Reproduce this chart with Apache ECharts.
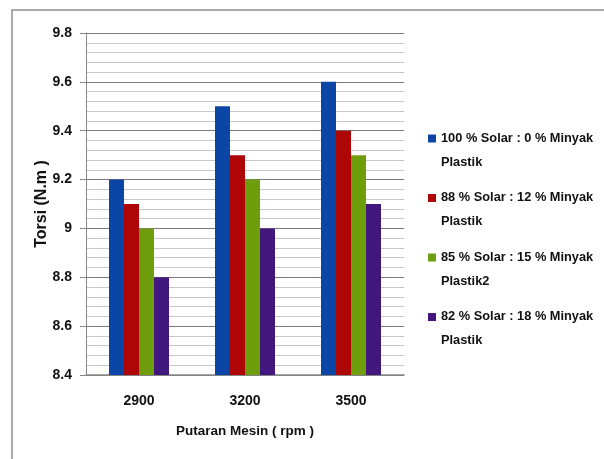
<!DOCTYPE html>
<html>
<head>
<meta charset="utf-8">
<script src="https://cdn.jsdelivr.net/npm/echarts@6/dist/echarts.min.js"></script>
<style>
html,body{margin:0;padding:0;background:#fff;}
#chart{width:604px;height:459px;}
</style>
</head>
<body>
<div id="chart"></div>
<script>
var categories = ['2900', '3200', '3500'];
var seriesNames = [
  '100 % Solar : 0 % Minyak\nPlastik',
  '88 % Solar : 12 % Minyak\nPlastik',
  '85 % Solar : 15 % Minyak\nPlastik2',
  '82 % Solar : 18 % Minyak\nPlastik'
];
var solar100 = [9.2, 9.5, 9.6];
var solar88 = [9.1, 9.3, 9.4];
var solar85 = [9.0, 9.2, 9.3];
var solar82 = [8.8, 9.0, 9.1];
var colors = ['#0B46A6', '#AE0606', '#6E9E0C', '#42187E'];

var FONT = '"Liberation Sans", Arial, sans-serif';
var chart = echarts.init(document.getElementById('chart'));
var values = [solar100, solar88, solar85, solar82];
var series = values.map(function (v, i) {
  return {
    name: seriesNames[i],
    type: 'bar',
    data: v,
    barWidth: 15,
    barGap: '0%',
    itemStyle: { color: colors[i] }
  };
});
chart.setOption({
  animation: false,
  color: colors,
  textStyle: { fontFamily: FONT },
  graphic: [{
    type: 'polyline',
    shape: { points: [[12, 470], [12, 10], [620, 10]] },
    style: { stroke: '#8f8f8f', lineWidth: 1.5, fill: null }
  }],
  grid: { left: 86, right: 200, top: 33, bottom: 84 },
  legend: {
    orient: 'vertical',
    left: 423,
    top: 121,
    icon: 'path://M0,0h8v8h-8z M0,31h0.01v0.01h-0.01z',
    itemWidth: 8,
    itemHeight: 31,
    itemGap: 11.5,
    textStyle: {
      fontFamily: FONT,
      fontSize: 12.8,
      fontWeight: 'bold',
      color: '#111',
      lineHeight: 24
    },
    data: seriesNames
  },
  xAxis: {
    type: 'category',
    data: categories,
    name: 'Putaran Mesin ( rpm )',
    nameLocation: 'middle',
    nameGap: 49,
    nameMoveOverlap: false,
    nameTextStyle: { fontFamily: FONT, fontSize: 13.5, fontWeight: 'bold', color: '#111' },
    axisLine: { lineStyle: { color: '#888', width: 1.5 } },
    axisTick: { show: false },
    axisLabel: { margin: 19, fontFamily: FONT, fontSize: 14, fontWeight: 'bold', color: '#111' }
  },
  yAxis: {
    type: 'value',
    min: 8.4,
    max: 9.8,
    interval: 0.2,
    name: 'Torsi (N.m )',
    nameLocation: 'middle',
    nameGap: 36,
    nameMoveOverlap: false,
    nameTextStyle: { fontFamily: FONT, fontSize: 16, fontWeight: 'bold', color: '#111' },
    axisLine: { show: true, lineStyle: { color: '#888', width: 1 } },
    axisTick: { show: true, length: 6, lineStyle: { color: '#888' } },
    axisLabel: { margin: 14, fontFamily: FONT, fontSize: 14, fontWeight: 'bold', color: '#111' },
    splitLine: { show: true, lineStyle: { color: '#7a7a7a', width: 1 } },
    minorTick: { show: false, splitNumber: 5 },
    minorSplitLine: { show: true, lineStyle: { color: '#c8c8c8', width: 1 } }
  },
  series: series
});
</script>
</body>
</html>
